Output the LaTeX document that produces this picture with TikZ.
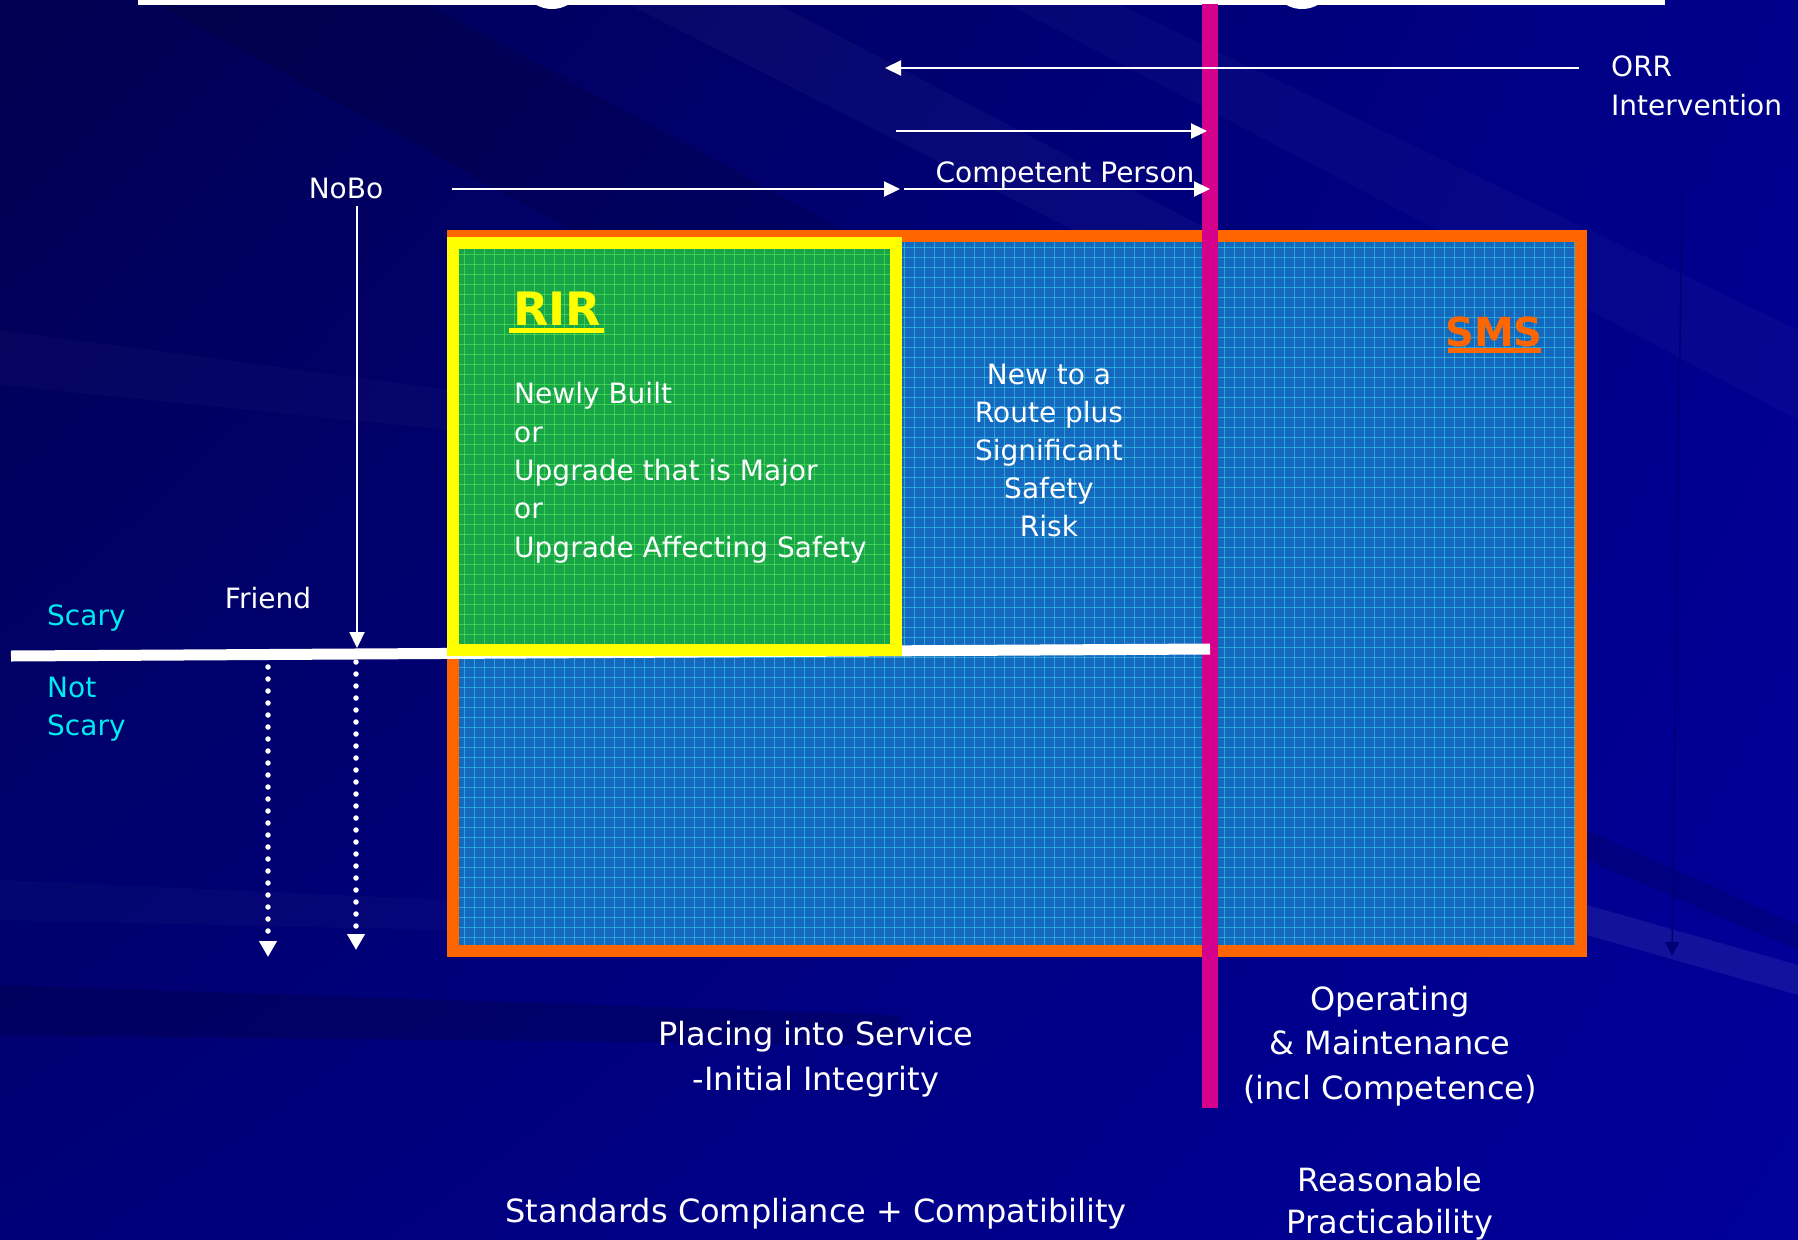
\documentclass[tikz,border=0pt]{standalone}
\usepackage{fontspec}
\setmainfont{DejaVu Sans}
\usetikzlibrary{arrows.meta,shadings}
\definecolor{navyA}{RGB}{0,0,80}
\definecolor{navyB}{RGB}{0,0,140}
\definecolor{navyC}{RGB}{0,0,120}
\definecolor{navyD}{RGB}{0,0,155}
\definecolor{smsorange}{RGB}{255,102,0}
\definecolor{smsblue}{RGB}{20,104,190}
\definecolor{gridcyan}{RGB}{60,215,240}
\definecolor{rirgreen}{RGB}{24,165,72}
\definecolor{gridgreen}{RGB}{90,240,90}
\definecolor{riryellow}{RGB}{255,255,0}
\definecolor{magline}{RGB}{213,0,140}
\definecolor{scarycyan}{RGB}{0,235,240}
\definecolor{faintnavy}{RGB}{0,0,118}
\tikzset{
  txt/.style={text=white, font=\fontsize{28}{34}\selectfont, inner sep=0pt, anchor=base},
  txtl/.style={txt, anchor=base west},
  big/.style={text=white, font=\fontsize{32}{38}\selectfont, inner sep=0pt, anchor=base},
  cyantxt/.style={txtl, text=scarycyan},
  arr/.style={draw=white, line width=2.2pt, -{Triangle[length=16pt,width=15pt]}},
  dotarr/.style={draw=white, line width=5.5pt, line cap=round, dash pattern=on 0pt off 12pt, -{Triangle[length=16pt,width=17pt]}},
  gridb/.style={draw=gridcyan, line width=0.9pt, opacity=0.55},
  gridg/.style={draw=gridgreen, line width=0.9pt, opacity=0.55},
}
\begin{document}
\begin{tikzpicture}[x=1pt,y=-1pt]
\useasboundingbox (0,0) rectangle (1798,1239);
% background
\shade[upper left=navyA, upper right=navyB, lower left=navyC, lower right=navyD] (0,0) rectangle (1798,1239);
\fill[white,opacity=0.03] (620,0) -- (770,0) -- (1400,330) -- (1290,340) -- cycle;
\fill[white,opacity=0.025] (1000,0) -- (1110,0) -- (1798,330) -- (1798,420) -- cycle;
\fill[black,opacity=0.12] (150,0) -- (420,0) -- (900,260) -- (700,300) -- cycle;
\fill[white,opacity=0.02] (0,330) -- (450,390) -- (450,430) -- (0,385) -- cycle;
\fill[black,opacity=0.15] (0,985) -- (900,1015) -- (900,1045) -- (0,1035) -- cycle;
\fill[black,opacity=0.12] (1587,830) -- (1798,925) -- (1798,950) -- (1587,860) -- cycle;
\fill[white,opacity=0.07] (1587,905) -- (1798,965) -- (1798,995) -- (1587,935) -- cycle;
\fill[white,opacity=0.02] (0,880) -- (447,900) -- (447,930) -- (0,920) -- cycle;
% top bar
\fill[white] (138,0) rectangle (1665,5);
\fill[white] (552,-23) circle[radius=32];
\fill[white] (1302,-23) circle[radius=32];
% faint navy arrow
\coordinate (fa1) at (1682,188);
\coordinate (fa2) at (1672,956);
\draw[draw=faintnavy, line width=1.5pt, -{Triangle[length=14pt,width=14pt]}] (fa1) -- (fa2);
% SMS box
\fill[smsblue] (459,242) rectangle (1575,947);
\foreach \gx in {464,474,...,1574} \draw[gridb] (\gx,242) -- (\gx,947);
\foreach \gy in {247,257,...,947} \draw[gridb] (459,\gy) -- (1575,\gy);
\draw[smsorange, line width=12pt] (453,236) rectangle (1581,951);
% magenta line
\coordinate (m1) at (1210,4);
\coordinate (m2) at (1210,1108);
\draw[magline, line width=16pt] (m1) -- (m2);
% white Scary line
\coordinate (wl1) at (11,656);
\coordinate (wl2) at (1210,649);
\draw[white, line width=11pt] (wl1) -- (wl2);
% RIR box
\fill[rirgreen] (459,249) rectangle (890,644);
\foreach \gx in {464,474,...,889} \draw[gridg] (\gx,249) -- (\gx,644);
\foreach \gy in {254,264,...,644} \draw[gridg] (459,\gy) -- (890,\gy);
\draw[riryellow, line width=12pt] (453,243) rectangle (896,650);
% arrows at top
\coordinate (orrS) at (1579,68);
\coordinate (orrE) at (885,68);
\draw[arr] (orrS) -- (orrE);
\coordinate (a2S) at (896,131);
\coordinate (a2E) at (1207,131);
\draw[arr] (a2S) -- (a2E);
\coordinate (nbS) at (452,189);
\coordinate (nbE) at (900,189);
\draw[arr] (nbS) -- (nbE);
\coordinate (cpS) at (904,189);
\coordinate (cpE) at (1210,189);
\draw[arr] (cpS) -- (cpE);
% NoBo vertical
\coordinate (nvS) at (357,206);
\coordinate (nvE) at (357,648);
\draw[arr] (nvS) -- (nvE);
% dotted arrows
\coordinate (d1S) at (268,667);
\coordinate (d1E) at (268,957);
\draw[dotarr] (d1S) -- (d1E);
\coordinate (d2S) at (356,662);
\coordinate (d2E) at (356,950);
\draw[dotarr] (d2S) -- (d2E);
% texts
\node[txtl] (orr1) at (1611,77) {ORR};
\node[txtl] (orr2) at (1611,115) {Intervention};
\node[txt] (cp) at (1065,182) {Competent Person};
\node[txt] (nobo) at (346,198) {NoBo};
\node[txt] (friend) at (268,608) {Friend};
\node[cyantxt] (scary) at (47,625) {Scary};
\node[cyantxt] (nots1) at (47,697) {Not};
\node[cyantxt] (nots2) at (47,735) {Scary};
% RIR
\node[inner sep=0pt, anchor=base, text=riryellow, font=\fontsize{46}{50}\selectfont\bfseries] (rir) at (557,325) {RIR};
\draw[riryellow, line width=5pt] (509,330) -- (604,330);
\node[txtl] (r1) at (514,403) {Newly Built};
\node[txtl] (r2) at (514,442) {or};
\node[txtl] (r3) at (514,480) {Upgrade that is Major};
\node[txtl] (r4) at (514,518) {or};
\node[txtl] (r5) at (514,557) {Upgrade Affecting Safety};
% New to a route
\node[txt] (n1) at (1049,384) {New to a};
\node[txt] (n2) at (1049,422) {Route plus};
\node[txt] (n3) at (1049,460) {Significant};
\node[txt] (n4) at (1049,498) {Safety};
\node[txt] (n5) at (1049,536) {Risk};
% SMS
\node[inner sep=0pt, anchor=base, text=smsorange, font=\fontsize{40}{46}\selectfont\bfseries] (sms) at (1494,346) {SMS};
\draw[smsorange, line width=4.5pt] (1448,350.5) -- (1541,350.5);
% bottom texts
\node[big] (pl1) at (816,1045) {Placing into Service};
\node[big] (pl2) at (816,1090) {-Initial Integrity};
\node[big] (std) at (816,1222) {Standards Compliance + Compatibility};
\node[big] (op1) at (1390,1010) {Operating};
\node[big] (op2) at (1390,1054) {\& Maintenance};
\node[big] (op3) at (1390,1099) {(incl Competence)};
\node[big] (rp1) at (1390,1191) {Reasonable};
\node[big] (rp2) at (1390,1233) {Practicability};
\end{tikzpicture}
\end{document}
